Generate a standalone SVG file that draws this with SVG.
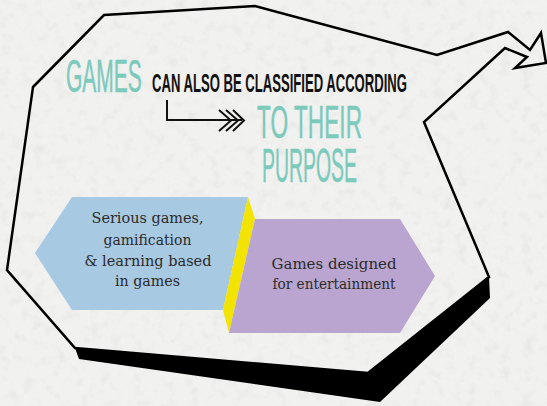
<svg xmlns="http://www.w3.org/2000/svg" width="547" height="406" viewBox="0 0 547 406">
  <defs>
    <filter id="paper" x="0" y="0" width="100%" height="100%">
      <feTurbulence type="fractalNoise" baseFrequency="0.09" numOctaves="3" seed="7"/>
      <feColorMatrix type="matrix" values="0 0 0 0 0.7  0 0 0 0 0.7  0 0 0 0 0.69  1.0 0 0 0 -0.5"/>
    </filter>
    <style>
      .outline { fill: none; stroke: #000; stroke-width: 2.5; stroke-linejoin: miter; }
      .teal { fill: #7ccabc; stroke: #7ccabc; stroke-width: 0.5; font-family: "Liberation Sans", Arial, sans-serif; font-weight: 400; }
      .black { fill: #111; font-family: "Liberation Sans", Arial, sans-serif; font-weight: 700; }
      .body { fill: #2b2b2b; font-family: "DejaVu Serif", "Liberation Serif", serif; font-size: 14px; text-anchor: middle; }
      .conn { fill: none; stroke: #111; stroke-width: 2; }
    </style>
  </defs>

  <rect width="547" height="406" fill="#f1f1ef"/>
  <rect width="547" height="406" filter="url(#paper)"/>

  <g id="frame">
    <polygon points="75,348 368,373 489,277 490,298 380,402 79,359" fill="#000"/>
    <polygon class="outline" points="33,87 104,15 255,6 437,55 508,32 530,50 541,33 546,63 515,68 527,57 505,48 424,122 489,277 368,373 75,348 7,270"/>
  </g>

  <g id="title">
    <text class="teal" transform="translate(66,92) scale(0.447,1)" font-size="47">GAMES</text>
    <text class="black" transform="translate(152,92) scale(0.524,1)" font-size="25">CAN ALSO BE CLASSIFIED ACCORDING</text>
    <text class="teal" transform="scale(0.447,1)" font-size="46"><tspan x="575" y="138" textLength="235" lengthAdjust="spacingAndGlyphs">TO THEIR</tspan><tspan x="586" y="182" font-size="48" textLength="212.5" lengthAdjust="spacingAndGlyphs">PURPOSE</tspan></text>
  </g>

  <g id="connectors">
    <path class="conn" d="M167,100 V120 H242"/>
    <path class="conn" d="M219,110 L231,120.5 L219,131 M226,110 L238,120.5 L226,131 M233,110 L244,120.5 L233,131"/>
  </g>

  <g id="node-serious">
    <polygon points="72,197 248,197 223,310 72,310 35,253" fill="#a8c9e2"/>
    <text class="body" x="147.5" y="223" textLength="112" lengthAdjust="spacingAndGlyphs">Serious games,</text>
    <text class="body" x="147.5" y="245" textLength="88" lengthAdjust="spacingAndGlyphs">gamification</text>
    <text class="body" x="148" y="266" textLength="127" lengthAdjust="spacingAndGlyphs">&amp; learning based</text>
    <text class="body" x="147.5" y="286" textLength="65" lengthAdjust="spacingAndGlyphs">in games</text>
  </g>

  <g id="divider">
    <polygon points="248,197 255,219 229,333 223,310" fill="#f2e400"/>
  </g>

  <g id="node-entertainment">
    <polygon points="255,219 400,219 435,276 400,333 229,333" fill="#b9a5cf"/>
    <text class="body" x="334" y="269" textLength="125" lengthAdjust="spacingAndGlyphs">Games designed</text>
    <text class="body" x="334" y="289" textLength="123" lengthAdjust="spacingAndGlyphs">for entertainment</text>
  </g>
</svg>
